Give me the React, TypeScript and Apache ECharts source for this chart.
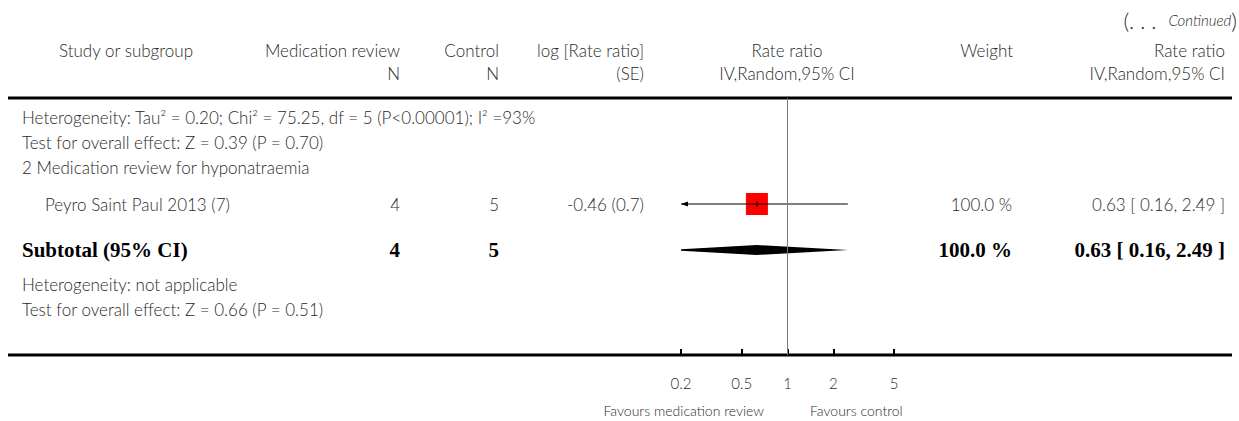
import React, { useEffect, useRef } from "react";
import * as echarts from "echarts";

// ---------- data ----------
const studyNames = ["Peyro Saint Paul 2013 (7)"];
const studyMedN = [4];
const studyCtrlN = [5];
const studyLogRR = ["-0.46 (0.7)"];
const studyRR = [0.63];
const studyLo = [0.16];
const studyHi = [2.49];
const studyWeight = [100.0];

const subtotalMedN = 4;
const subtotalCtrlN = 5;
const subtotalRR = 0.63;
const subtotalLo = 0.16;
const subtotalHi = 2.49;
const subtotalWeight = 100.0;

const tickValues = [0.2, 0.5, 1, 2, 5];
const axisMin = 0.2;
const axisMax = 5;

const header1 = ["Study or subgroup", "Medication review", "Control", "log [Rate ratio]", "Rate ratio", "Weight", "Rate ratio"];
const header2 = ["N", "N", "(SE)", "IV,Random,95% CI", "IV,Random,95% CI"];
const hetText1 = "Heterogeneity: Tau² = 0.20; Chi² = 75.25, df = 5 (P<0.00001); I² =93%";
const testText1 = "Test for overall effect: Z = 0.39 (P = 0.70)";
const subgroupTitle = "2 Medication review for hyponatraemia";
const hetText2 = "Heterogeneity: not applicable";
const testText2 = "Test for overall effect: Z = 0.66 (P = 0.51)";
const favLeft = "Favours medication review";
const favRight = "Favours control";

// ---------- layout ----------
const W = 1239;
const H = 421;
const FONT = "Lato, 'Open Sans', sans-serif";
const SERIF = "'Liberation Serif', 'DejaVu Serif', serif";
const TXT = "#2a2a2a";
const FS = 17;
const BFS = 21;
const TOP_LINE = 98;
const BOTTOM_LINE = 355;
const ROW_STUDY = 204;
const ROW_SUB = 250;
const COL = { name: 22, indent: 45, medN: 400, ctrlN: 499, se: 644, plot: 787, weight: 1012, ci: 1225 };
const SQUARE = 22;
const DIAMOND_H = 10;

const L = (v: number) => Math.log10(v);
const fmt2 = (v: number) => v.toFixed(2);
const ciText = (rr: number, lo: number, hi: number) => `${fmt2(rr)} [ ${fmt2(lo)}, ${fmt2(hi)} ]`;

function txt(text: string, x: number, y: number, align: string, opts: any = {}) {
  return {
    type: "text",
    x,
    y,
    silent: true,
    style: {
      text,
      fill: opts.fill || TXT,
      fontFamily: opts.fontFamily || FONT,
      fontSize: opts.fontSize || FS,
      fontWeight: opts.fontWeight || 300,
      fontStyle: opts.fontStyle || "normal",
      align,
      verticalAlign: "middle",
    },
  };
}

export default function App() {
  const ref = useRef<HTMLDivElement>(null);

  useEffect(() => {
    if (!ref.current) return;
    const chart = echarts.init(ref.current, null, { renderer: "svg" });

    const studyData = studyRR.map((rr, i) => [L(rr), L(studyLo[i]), L(studyHi[i]), ROW_STUDY, studyWeight[i]]);
    const subData = [[L(subtotalRR), L(subtotalLo), L(subtotalHi), ROW_SUB]];

    const graphics: any[] = [];
    // continued
    graphics.push({
      type: "text",
      x: 1237,
      y: 20,
      silent: true,
      style: {
        text: "{p|(. . .  }{i|Continued}{p|)}",
        align: "right",
        verticalAlign: "middle",
        fill: TXT,
        rich: {
          p: { fontFamily: FONT, fontSize: 22, fontWeight: 300, fill: TXT },
          i: { fontFamily: FONT, fontSize: 15, fontWeight: 300, fontStyle: "italic", fill: TXT },
        },
      },
    });
    // headers
    const h1y = 50;
    const h2y = 73;
    graphics.push(txt(header1[0], 126, h1y, "center"));
    graphics.push(txt(header1[1], COL.medN, h1y, "right"));
    graphics.push(txt(header1[2], COL.ctrlN, h1y, "right"));
    graphics.push(txt(header1[3], COL.se, h1y, "right"));
    graphics.push(txt(header1[4], COL.plot, h1y, "center"));
    graphics.push(txt(header1[5], COL.weight + 1, h1y, "right"));
    graphics.push(txt(header1[6], COL.ci, h1y, "right"));
    graphics.push(txt(header2[0], COL.medN, h2y, "right"));
    graphics.push(txt(header2[1], COL.ctrlN, h2y, "right"));
    graphics.push(txt(header2[2], COL.se, h2y, "right"));
    graphics.push(txt(header2[3], COL.plot, h2y, "center"));
    graphics.push(txt(header2[4], COL.ci, h2y, "right"));
    // lines
    graphics.push({ type: "line", silent: true, shape: { x1: 8, y1: TOP_LINE, x2: 1232, y2: TOP_LINE }, style: { stroke: "#000", lineWidth: 3 } });
    graphics.push({ type: "line", silent: true, shape: { x1: 8, y1: BOTTOM_LINE, x2: 1232, y2: BOTTOM_LINE }, style: { stroke: "#000", lineWidth: 3 } });
    // rows
    graphics.push(txt(hetText1, COL.name, 117, "left"));
    graphics.push(txt(testText1, COL.name, 142, "left"));
    graphics.push(txt(subgroupTitle, COL.name, 167, "left"));
    studyNames.forEach((n, i) => {
      graphics.push(txt(n, COL.indent, ROW_STUDY, "left"));
      graphics.push(txt(String(studyMedN[i]), COL.medN, ROW_STUDY, "right"));
      graphics.push(txt(String(studyCtrlN[i]), COL.ctrlN, ROW_STUDY, "right"));
      graphics.push(txt(studyLogRR[i], COL.se, ROW_STUDY, "right"));
      graphics.push(txt(studyWeight[i].toFixed(1) + " %", COL.weight, ROW_STUDY, "right"));
      graphics.push(txt(ciText(studyRR[i], studyLo[i], studyHi[i]), COL.ci, ROW_STUDY, "right"));
    });
    const bold = { fontFamily: SERIF, fontSize: BFS, fontWeight: "bold", fill: "#000" };
    graphics.push(txt("Subtotal (95% CI)", COL.name, ROW_SUB, "left", bold));
    graphics.push(txt(String(subtotalMedN), COL.medN, ROW_SUB, "right", bold));
    graphics.push(txt(String(subtotalCtrlN), COL.ctrlN, ROW_SUB, "right", bold));
    graphics.push(txt(subtotalWeight.toFixed(1) + " %", COL.weight, ROW_SUB, "right", bold));
    graphics.push(txt(ciText(subtotalRR, subtotalLo, subtotalHi), COL.ci, ROW_SUB, "right", bold));
    graphics.push(txt(hetText2, COL.name, 284, "left"));
    graphics.push(txt(testText2, COL.name, 309, "left"));
    // favours
    graphics.push(txt(favLeft, 764, 410, "right", { fontSize: 14 }));
    graphics.push(txt(favRight, 810, 410, "left", { fontSize: 14 }));

    const option: any = {
      animation: false,
      grid: { left: 681, right: W - 894, top: TOP_LINE, bottom: H - BOTTOM_LINE },
      xAxis: {
        type: "value",
        min: L(axisMin),
        max: L(axisMax),
        splitLine: { show: false },
        axisLine: { show: false },
        axisTick: {
          show: true,
          inside: true,
          length: 6,
          lineStyle: { color: "#000", width: 2 },
          customValues: tickValues.map(L),
        },
        axisLabel: {
          customValues: tickValues.map(L),
          formatter: (v: number) => String(parseFloat(Math.pow(10, v).toPrecision(2))),
          margin: 20,
          color: TXT,
          fontFamily: FONT,
          fontSize: 15,
          fontWeight: 300,
        },
      },
      yAxis: { type: "value", inverse: true, min: TOP_LINE, max: BOTTOM_LINE, show: false },
      series: [
        {
          type: "custom",
          clip: true,
          data: studyData,
          renderItem: (params: any, api: any) => {
            const y = api.value(3);
            const est = api.coord([api.value(0), y]);
            const lo = api.coord([api.value(1), y]);
            const hi = api.coord([api.value(2), y]);
            const cs = params.coordSys;
            const xMin = cs.x;
            const xMax = cs.x + cs.width;
            const loX = Math.max(lo[0], xMin);
            const hiX = Math.min(hi[0], xMax);
            const s = SQUARE * Math.sqrt(api.value(4) / 100);
            const children: any[] = [
              { type: "rect", shape: { x: est[0] - s / 2, y: est[1] - s / 2, width: s, height: s }, style: { fill: "#ff0000" } },
              { type: "line", shape: { x1: loX, y1: est[1], x2: hiX, y2: est[1] }, style: { stroke: "#000", lineWidth: 1 } },
              { type: "line", shape: { x1: est[0], y1: est[1] - 3, x2: est[0], y2: est[1] + 3 }, style: { stroke: "#000", lineWidth: 1 } },
            ];
            if (lo[0] < xMin) {
              children.push({
                type: "polygon",
                shape: { points: [[xMin, est[1]], [xMin + 7, est[1] - 2.5], [xMin + 7, est[1] + 2.5]] },
                style: { fill: "#000" },
              });
            }
            if (hi[0] > xMax) {
              children.push({
                type: "polygon",
                shape: { points: [[xMax, est[1]], [xMax - 7, est[1] - 2.5], [xMax - 7, est[1] + 2.5]] },
                style: { fill: "#000" },
              });
            }
            return { type: "group", children };
          },
        },
        {
          type: "custom",
          clip: true,
          data: subData,
          renderItem: (params: any, api: any) => {
            const y = api.value(3);
            const est = api.coord([api.value(0), y]);
            const lo = api.coord([api.value(1), y]);
            const hi = api.coord([api.value(2), y]);
            const h = DIAMOND_H / 2;
            return {
              type: "polygon",
              shape: { points: [[lo[0], est[1]], [est[0], est[1] - h], [hi[0], est[1]], [est[0], est[1] + h]] },
              style: { fill: "#000" },
            };
          },
          markLine: {
            silent: true,
            symbol: "none",
            label: { show: false },
            lineStyle: { color: "#7a7a7a", width: 1, type: "solid" },
            data: [{ xAxis: 0 }],
          },
        },
      ],
      graphic: graphics,
    };
    chart.setOption(option);
    return () => chart.dispose();
  }, []);

  return <div ref={ref} style={{ position: "fixed", left: 0, top: 0, width: W, height: H, background: "#fff" }} />;
}
